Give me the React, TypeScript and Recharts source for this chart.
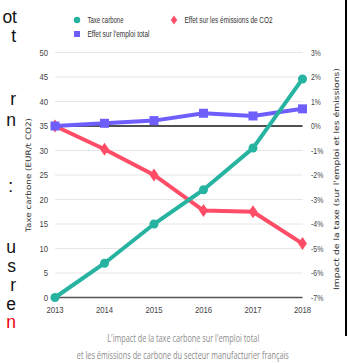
import React from 'react';
import { LineChart, Line, XAxis, YAxis, CartesianGrid, ReferenceLine } from 'recharts';

// Series
const years = ['2013', '2014', '2015', '2016', '2017', '2018'];
const carbonTax = [0, 7, 15, 22, 30.5, 44.6];
const co2Effect = [0, -0.95, -2.0, -3.45, -3.5, -4.8];
const jobsEffect = [0, 0.11, 0.22, 0.52, 0.41, 0.7];

const taxTicks = [0, 5, 10, 15, 20, 25, 30, 35, 40, 45, 50];
const impactTicks = [-7, -6, -5, -4, -3, -2, -1, 0, 1, 2, 3];

const seriesNames = ['Taxe carbone', 'Effet sur les émissions de CO2', "Effet sur l'emploi total"];
const captionLines = [
  "L'impact de la taxe carbone sur l'emploi total",
  'et les émissions de carbone du secteur manufacturier français',
];

const TEAL = '#26b3a0';
const RED = '#ff4d67';
const BLUE = '#6e5efb';

const W = 349;
const H = 363;

const data = years.map((year, i) => ({
  year,
  tax: carbonTax[i],
  co2: co2Effect[i],
  jobs: jobsEffect[i],
}));

// Narrow label font: squeeze glyphs to the condensed width
const narrowWidth = (s: string) =>
  s.split('').reduce((w, c) => w + (c === '%' ? 5.5 : c === '-' ? 2.5 : 4.3), 0);

function NarrowTick(props: any) {
  const { x, y, payload, anchor, suffix = '', dy = '0.35em' } = props;
  const label = `${payload.value}${suffix}`;
  return (
    <text
      x={x}
      y={y}
      dy={dy}
      textAnchor={anchor}
      fontSize={9}
      fill="#444"
      fontFamily="'Liberation Sans', Arial, sans-serif"
      textLength={narrowWidth(label)}
      lengthAdjust="spacingAndGlyphs"
    >
      {label}
    </text>
  );
}

function AxisTitle({ x, y, text, length }: { x: number; y: number; text: string; length: number }) {
  return (
    <text
      x={x}
      y={y}
      transform={`rotate(-90, ${x}, ${y})`}
      textAnchor="middle"
      dominantBaseline="central"
      fontSize={7.5}
      fill="#333"
      fontFamily="'DejaVu Sans', Verdana, sans-serif"
      textLength={length}
      lengthAdjust="spacingAndGlyphs"
    >
      {text}
    </text>
  );
}

const circleDot = (p: any) => <circle key={`c-${p.index}`} cx={p.cx} cy={p.cy} r={4.5} fill={TEAL} />;

const diamondDot = (p: any) => (
  <path
    key={`d-${p.index}`}
    d={`M${p.cx},${p.cy - 6.5}L${p.cx + 4.5},${p.cy}L${p.cx},${p.cy + 6.5}L${p.cx - 4.5},${p.cy}Z`}
    fill={RED}
  />
);

const squareDot = (p: any) => (
  <rect key={`s-${p.index}`} x={p.cx - 4.5} y={p.cy - 4.5} width={9} height={9} fill={BLUE} />
);

// Cut-off words from the neighbouring text column
const sideText = [
  { t: 'ot', y: 18, r: 17 },
  { t: 't', y: 37, r: 16 },
  { t: 'r', y: 100, r: 16 },
  { t: 'n', y: 121, r: 16 },
  { t: ':', y: 187, r: 13 },
  { t: 'u', y: 248, r: 16 },
  { t: 's', y: 267, r: 16 },
  { t: 'r', y: 286, r: 16 },
  { t: 'e', y: 305, r: 16 },
  { t: 'n', y: 323, r: 16, red: true },
];

function LegendBox() {
  const items = [
    { name: seriesNames[0], x: 77, y: 20, len: 36, mark: <circle cx={77} cy={20} r={3.2} fill={TEAL} /> },
    {
      name: seriesNames[1],
      x: 174,
      y: 20,
      len: 88,
      mark: <path d="M174,15.5L177.2,20L174,24.5L170.8,20Z" fill={RED} />,
    },
    { name: seriesNames[2], x: 77, y: 34, len: 62, mark: <rect x={74} y={31} width={6} height={6} fill={BLUE} /> },
  ];
  return (
    <svg width={W} height={45} style={{ position: 'absolute', left: 0, top: 0, pointerEvents: 'none' }}>
      {items.map((it) => (
        <g key={it.name}>
          {it.mark}
          <text
            x={it.x + 10.5}
            y={it.y}
            dominantBaseline="central"
            fontSize={9}
            fill="#333"
            fontFamily="'Liberation Sans', Arial, sans-serif"
            textLength={it.len}
            lengthAdjust="spacingAndGlyphs"
          >
            {it.name}
          </text>
        </g>
      ))}
    </svg>
  );
}

// Caption set in a narrowed Open Sans: measure the natural width, then squeeze horizontally
const CAPTION_FONT = "10px 'Open Sans', 'Liberation Sans', sans-serif";
let measureCtx: CanvasRenderingContext2D | null = null;
function measureText(text: string) {
  if (!measureCtx) measureCtx = document.createElement('canvas').getContext('2d');
  if (!measureCtx) return text.length * 5;
  measureCtx.font = CAPTION_FONT;
  return measureCtx.measureText(text).width;
}

function CaptionLine({ text, cx, cy, width }: { text: string; cx: number; cy: number; width: number }) {
  const natural = measureText(text);
  return (
    <div
      style={{
        position: 'absolute',
        left: cx - natural / 2,
        top: cy - 6.2,
        width: natural,
        whiteSpace: 'nowrap',
        font: CAPTION_FONT,
        lineHeight: '10px',
        color: '#8c8c8c',
        transform: `scaleX(${width / natural})`,
        transformOrigin: '50% 50%',
      }}
    >
      {text}
    </div>
  );
}

export default function App() {
  return (
    <div style={{ position: 'absolute', left: 0, top: 0, width: W, height: H, background: '#fff', overflow: 'hidden' }}>
      {sideText.map((s, i) => (
        <div
          key={i}
          style={{
            position: 'absolute',
            left: s.r - 100,
            width: 100,
            top: s.y - 9.5,
            textAlign: 'right',
            fontFamily: "'Liberation Sans', Arial, sans-serif",
            fontSize: 17.5,
            lineHeight: '16px',
            color: s.red ? '#e8000b' : '#111',
          }}
        >
          {s.t}
        </div>
      ))}

      <div style={{ position: 'absolute', left: 344.5, top: 0, width: 2.5, height: 336, background: '#000' }} />

      <div style={{ position: 'absolute', left: 0, top: 0 }}>
        <LineChart width={W} height={H} data={data} margin={{ top: 52.5, right: 26.5, bottom: 45.5, left: 25 }}>
          <CartesianGrid yAxisId="left" vertical={false} stroke="#e6e6e6" />
          <XAxis
            dataKey="year"
            interval={0}
            height={20}
            tickSize={0}
            tickMargin={9.5}
            tickLine={false}
            axisLine={{ stroke: '#555', strokeWidth: 1.5 }}
            tick={(p: any) => <NarrowTick {...p} anchor="middle" dy="0.71em" />}
          />
          <YAxis
            yAxisId="left"
            domain={[0, 50]}
            ticks={taxTicks}
            width={30}
            tickSize={0}
            tickMargin={7}
            axisLine={false}
            tickLine={false}
            tick={(p: any) => <NarrowTick {...p} anchor="end" />}
            label={(p: any) => (
              <AxisTitle
                x={p.viewBox.x + 3}
                y={p.viewBox.y + p.viewBox.height / 2}
                text="Taxe carbone (EUR/t CO2)"
                length={114}
              />
            )}
          />
          <YAxis
            yAxisId="right"
            orientation="right"
            domain={[-7, 3]}
            ticks={impactTicks}
            width={20}
            tickSize={0}
            tickMargin={8.5}
            axisLine={false}
            tickLine={false}
            tick={(p: any) => <NarrowTick {...p} anchor="start" suffix="%" />}
            label={(p: any) => (
              <AxisTitle
                x={p.viewBox.x + 34.2}
                y={p.viewBox.y + p.viewBox.height / 2 + 4}
                text="Impact de la taxe (sur l'emploi et les émissions)"
                length={222}
              />
            )}
          />
          <ReferenceLine yAxisId="right" y={0} stroke="#1a1a1a" strokeWidth={1.5} />
          <Line
            yAxisId="right"
            dataKey="co2"
            name={seriesNames[1]}
            stroke={RED}
            strokeWidth={4}
            dot={diamondDot}
            isAnimationActive={false}
          />
          <Line
            yAxisId="right"
            dataKey="jobs"
            name={seriesNames[2]}
            stroke={BLUE}
            strokeWidth={4}
            dot={squareDot}
            isAnimationActive={false}
          />
          <Line
            yAxisId="left"
            dataKey="tax"
            name={seriesNames[0]}
            stroke={TEAL}
            strokeWidth={4}
            dot={circleDot}
            isAnimationActive={false}
          />
        </LineChart>
      </div>

      <LegendBox />
      <CaptionLine text={captionLines[0]} cx={183.3} cy={339} width={152} />
      <CaptionLine text={captionLines[1]} cx={183} cy={356.5} width={212} />
    </div>
  );
}
